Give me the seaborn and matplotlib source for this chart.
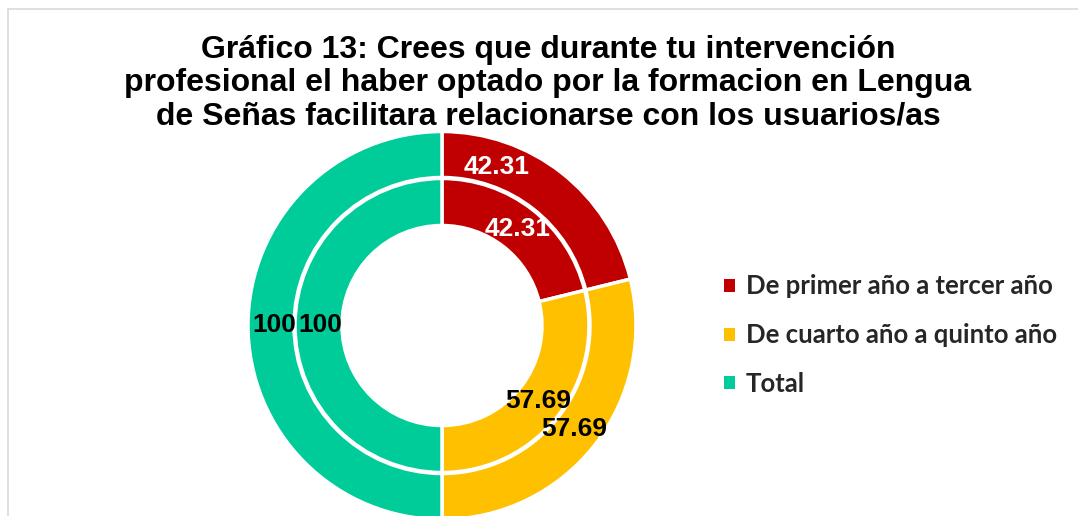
import matplotlib
matplotlib.use("Agg")
import matplotlib.pyplot as plt
import seaborn as sns
import numpy as np
from matplotlib.patches import Patch, Rectangle

categories = ["De primer año a tercer año", "De cuarto año a quinto año", "Total"]
outer_values = [42.31, 57.69, 100]
inner_values = [42.31, 57.69, 100]
colors = ["#C00000", "#FFC000", "#00CC99"]
label_colors = ["white", "black", "black"]

title = ("Gráfico 13: Crees que durante tu intervención\n"
         "profesional el haber optado por la formacion en Lengua\n"
         "de Señas facilitara relacionarse con los usuarios/as")

sns.set_theme(style="white")
plt.rcParams["font.family"] = ["Liberation Sans", "DejaVu Sans"]

W, H = 1078, 516
fig = plt.figure(figsize=(W / 100, H / 100), dpi=100)
fig.patch.set_facecolor("white")

# outline of the chart area (cropped on the right and bottom)
fig.add_artist(Rectangle((8 / W, -0.1), 1.2, 1.1 - 9 / H, transform=fig.transFigure,
                         fill=False, edgecolor="#D9D9D9", linewidth=1.2))

# donut geometry in pixels
cx, cy, r_out = 442, 516 - 325.5, 194
ax = fig.add_axes([(cx - r_out) / W, (cy - r_out) / H, 2 * r_out / W, 2 * r_out / H])

r_mid = 147 / r_out
r_in = 100 / r_out
pal = sns.color_palette(colors)

w_out, _ = ax.pie(outer_values, radius=1.0, colors=pal, startangle=90, counterclock=False,
                  wedgeprops=dict(width=1.0 - 148 / r_out, edgecolor="white", linewidth=2.5))
w_in, _ = ax.pie(inner_values, radius=r_mid, colors=pal, startangle=90, counterclock=False,
                 wedgeprops=dict(width=r_mid - r_in, edgecolor="white", linewidth=2.5))
ax.set_xlim(-1, 1)
ax.set_ylim(-1, 1)
ax.set_aspect("auto")
ax.axis("off")

# data labels (Excel nudged the outer red label towards the top)
nudge = {("outer", 0): 19}
for ring, wedges, vals, rad in [("outer", w_out, outer_values, 168 / r_out),
                                ("inner", w_in, inner_values, 122 / r_out)]:
    for i, (w, v) in enumerate(zip(wedges, vals)):
        ang = np.deg2rad((w.theta1 + w.theta2) / 2 + nudge.get((ring, i), 0))
        ax.text(rad * np.cos(ang), rad * np.sin(ang), f"{v:g}", ha="center", va="center",
                fontsize=19, fontweight="bold", color=label_colors[i])

fig.text(548 / W, 1 - 35 / H, title, ha="center", va="top", fontsize=23,
         fontweight="bold", linespacing=1.15, color="black")

handles = [Patch(facecolor=c, edgecolor="none") for c in colors]
leg = fig.legend(handles, categories, loc="upper left", bbox_to_anchor=(714 / W, 1 - 264 / H),
                 frameon=False, handlelength=0.4, handleheight=0.4, handletextpad=0.45,
                 labelspacing=0.97, borderaxespad=0,
                 prop=dict(family="Lato", weight="bold", size=18.5))

fig.savefig("out.png", dpi=100, facecolor="white")
